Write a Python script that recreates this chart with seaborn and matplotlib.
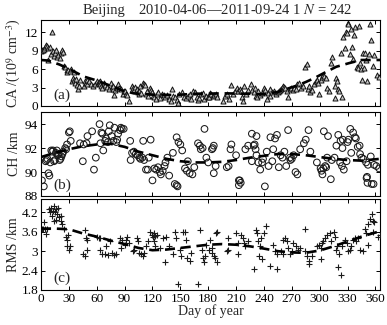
import numpy as np
import pandas as pd
import matplotlib
matplotlib.use("Agg")
import matplotlib.pyplot as plt
import seaborn as sns

# ---- CA (10^9 cm^-3) observations: day of year, value ----
ca_day = [0.5, 1.5, 2.5, 3.5, 4.5, 5.5, 6.5, 7.5, 8.0, 9.5, 11.0, 12.0, 13.0, 14.0,
          15.5, 16.5, 17.5, 18.5, 20.0, 21.0, 22.5, 23.5, 25.0, 26.0, 27.5, 28.5, 29.5,
          31, 32, 33, 34, 35, 36, 37, 38, 39, 40, 41, 42,
          46, 47, 48, 49, 50, 52, 54, 56, 58,
          60, 61, 62, 63, 64, 65, 66, 68, 69, 71, 73,
          75, 76, 77, 78, 79, 80, 82, 83, 84, 86, 88, 89,
          90, 92, 93, 95, 98, 99, 100, 101, 103, 104,
          105, 106, 107, 108, 110, 111, 112, 113, 114, 115, 117, 118,
          120, 121, 122, 124, 125, 126, 128, 130, 132, 134,
          136, 138, 140, 141, 142, 144, 146, 148, 149,
          152, 154, 156, 158, 160, 162, 164,
          166, 168, 169, 170, 172, 174, 176, 178,
          180, 181, 182, 183, 185, 186, 188, 190,
          196, 198, 200, 202, 205, 207, 209,
          211, 212, 214, 215, 216, 217, 219, 221, 223,
          226, 227, 229, 230, 231, 233, 234, 236, 238,
          240, 241, 243, 244, 246, 247, 249, 251, 253,
          255, 256, 257, 258, 259, 260, 261, 262, 263, 265, 266, 268, 269,
          271, 272, 274, 276, 278, 280, 282, 284, 286,
          287, 289, 290, 292, 294, 296, 297, 298, 299,
          301, 302, 304, 305, 307, 308, 310, 312, 313,
          316, 317, 318, 319, 320, 321, 323, 324, 325, 327, 328, 329, 330, 331,
          333, 334, 335, 336, 337, 338, 340, 341, 342, 343, 344,
          346, 347, 348, 349, 350, 351, 353, 354, 355, 357, 359, 362, 364]
ca_val = [9.0, 9.2, 9.1, 9.3, 9.6, 9.9, 9.8, 9.5, 7.5, 9.6, 8.5, 12.0, 8.9, 8.2,
          8.6, 9.1, 8.0, 8.3, 7.9, 8.6, 9.2, 8.8, 6.6, 6.4, 5.8, 5.6, 5.9,
          5.7, 6.0, 4.0, 4.6, 5.5, 4.2, 3.8, 4.4, 3.4, 2.8, 3.2, 4.3,
          3.2, 4.0, 3.8, 4.3, 3.5, 4.1, 3.6, 3.3, 3.5,
          4.1, 3.8, 3.9, 4.0, 3.5, 3.3, 2.9, 3.7, 3.4, 3.1, 2.8,
          3.8, 3.1, 2.8, 3.3, 1.8, 2.6, 3.0, 3.5, 2.9, 2.7, 2.0, 2.4,
          2.5, 2.0, 1.8, 0.8, 3.2, 2.9, 2.6, 3.1, 2.7, 2.2,
          1.9, 2.4, 3.3, 2.1, 3.7, 3.5, 3.4, 2.0, 2.4, 1.6, 2.9, 2.6,
          2.3, 1.7, 1.5, 1.1, 1.9, 2.2, 1.3, 2.0, 1.8, 1.4,
          1.8, 1.2, 0.8, 2.7, 1.6, 1.5, 1.0, 0.5, 2.0,
          2.3, 1.5, 1.3, 1.7, 2.0, 1.2, 2.4,
          2.2, 1.5, 1.0, 1.3, 1.9, 2.1, 1.1, 1.6,
          1.5, 1.4, 2.1, 2.0, 1.6, 1.8, 1.9, 1.5,
          0.8, 1.6, 2.0, 1.2, 3.4, 2.0, 2.5,
          3.0, 2.5, 2.8, 2.4, 1.4, 0.8, 3.2, 2.0, 2.6,
          3.5, 2.6, 2.2, 2.9, 1.7, 1.5, 2.5, 1.8, 2.1,
          3.0, 2.6, 1.2, 2.1, 2.8, 1.7, 2.3, 2.5, 2.0,
          2.2, 2.4, 2.6, 2.8, 3.0, 3.1, 3.2, 3.1, 2.9, 2.5, 1.5, 2.7, 2.9,
          2.6, 3.0, 2.8, 3.5, 3.8, 2.9, 3.3, 6.3, 6.8,
          2.8, 3.2, 2.2, 2.6, 3.5, 4.0, 4.2, 3.8, 2.0,
          4.3, 4.8, 5.1, 4.9, 4.6, 3.0, 2.5, 7.0, 8.0,
          1.3, 3.2, 4.5, 4.0, 2.8, 2.5, 8.7, 1.5, 11.2, 9.5, 12.0, 11.9, 13.5, 13.3,
          8.5, 12.6, 9.6, 7.7, 11.5, 12.9, 6.4, 6.2, 13.1, 7.0, 6.1,
          4.2, 8.6, 6.2, 8.7, 7.5, 4.0, 8.4, 13.3, 10.8, 6.5, 8.3, 5.0, 4.8]

# ---- CH (km) observations ----
ch_day = [1, 3, 5, 6, 7, 8, 9, 10, 11, 12, 13, 14, 15,
          16, 17, 18, 19, 20, 21, 22, 23, 24, 26, 27, 28, 30, 31, 32,
          42, 45, 46, 49, 50, 55, 57, 59,
          63, 64, 65, 66, 67, 69, 70, 72, 73, 74, 76, 78, 79, 81, 82, 83, 85, 86, 87, 89,
          96, 96.5, 98, 100, 102, 104, 106, 107, 109, 111, 110, 113, 115, 116, 118, 120, 122,
          124, 126, 128, 129, 131, 133, 134, 136, 138, 142, 144, 146, 147, 146, 148, 150, 152,
          155, 157, 158, 160, 163, 165, 169, 171, 172, 174, 176, 178,
          180, 184, 185, 186, 188, 186, 200, 202, 205, 204, 210, 213, 214, 215, 213,
          220, 223, 227, 229, 230, 231, 232, 232, 227, 234, 236, 238, 239, 241, 243,
          245, 247, 249, 250, 252, 254, 256, 258, 260, 262, 264, 266, 268, 268.5, 270,
          272, 274, 276, 279, 283, 285, 288, 290, 297, 301, 302, 304, 303, 306, 307,
          304.5, 309, 308, 312, 313, 316, 318, 320, 322, 324, 326, 322.5, 324.5, 325,
          329, 330, 331, 333, 336, 334, 338, 339, 341, 343, 343.5, 345, 347, 350, 352,
          350.5, 351, 351.5, 356, 358, 355, 358.5, 361, 364]
ch_val = [89.3, 88.8, 90.9, 91.0, 91.1, 89.9, 89.7, 90.8, 91.8, 91.7, 91.8, 90.9, 91.0,
          91.6, 91.8, 91.4, 91.5, 91.0, 91.1, 91.3, 91.5, 91.7, 92.0, 91.9, 92.3, 93.3, 93.4, 92.6,
          92.4, 90.9, 92.3, 92.4, 93.0, 93.4, 90.2, 91.2,
          94.0, 92.4, 93.3, 93.2, 91.8, 92.6, 92.8, 92.5, 93.4, 93.9, 93.0, 92.6, 93.7, 92.5,
          92.7, 93.2, 93.5, 93.7, 93.6, 93.6,
          92.6, 91.0, 91.6, 91.7, 91.5, 91.4, 91.2, 91.1, 91.2, 91.0, 92.6, 90.2, 90.2, 91.2,
          92.7, 89.3, 90.3,
          90.2, 90.4, 90.0, 89.8, 90.1, 90.5, 90.8, 91.2, 89.7, 91.6, 89.0, 88.9, 88.8, 92.9,
          92.5, 92.3, 91.8,
          90.3, 90.1, 90.9, 89.9, 89.8, 90.4, 92.4, 92.2, 91.9, 92.0, 93.6, 91.2,
          90.8, 91.9, 92.0, 92.2, 90.5, 89.9, 90.4, 90.5, 92.3, 91.9, 91.4, 89.3, 89.3, 89.1, 88.9,
          91.9, 92.2, 93.2, 92.2, 92.3, 91.9, 93.0, 91.4, 90.9, 90.8, 90.2, 90.8, 91.1, 88.8, 91.7,
          90.5, 92.9, 90.9, 91.9, 92.8, 93.1, 90.4, 91.4, 91.2, 91.7, 90.5, 93.5, 91.2, 91.0, 91.1,
          91.4, 90.0, 89.8, 91.9, 92.4, 92.7, 93.5, 91.7, 90.8, 90.3, 90.1, 90.3, 89.8, 90.5, 90.4,
          93.4, 93.0, 91.2, 89.4, 91.0, 91.2, 92.2, 93.1, 90.8, 90.5, 90.2, 92.6, 92.0, 92.7,
          90.9, 92.5, 92.7, 93.6, 93.3, 91.6, 92.9, 92.8, 92.1, 92.2, 91.5, 91.2, 91.1, 90.8, 90.6,
          89.5, 89.6, 89.1, 89.0, 89.0, 91.3, 90.6, 90.5, 90.3]

# ---- RMS (km) observations ----
rms_day = [1, 2, 3, 4, 5, 6, 9, 10, 11, 12, 13, 14, 15, 16, 17, 18, 13.5, 16.5, 19, 21, 22, 23,
           25, 27, 28, 29, 27.5, 31, 30, 47, 48, 50, 45, 47.5, 49, 60, 62, 63, 63.5, 66, 69, 72,
           70, 74, 76, 79, 81, 85, 87, 86, 90, 92, 93, 95, 99, 100, 103, 104, 106, 108, 110, 111,
           113, 115, 117, 119, 121, 122, 123, 125, 121.5, 122.5, 128, 131, 135, 133, 138, 142,
           144, 145, 147, 150, 151, 153, 155, 156, 157, 160, 162, 169, 171, 173, 174, 176, 178,
           181, 184, 177, 182, 184.5, 186, 188, 189, 189.5, 187, 200, 201, 201.5, 210, 212,
           212.5, 215, 217, 218, 220, 223, 229, 231, 232, 234, 236, 237, 240, 242, 235, 237.5,
           247, 250, 252, 254, 254.5, 258, 260, 261, 263, 265, 266, 268, 270, 271, 275, 277,
           279, 284, 284.5, 286, 288, 289, 292, 297, 299, 301, 303, 304, 301.5, 306, 308, 311,
           312, 315, 316, 318, 319, 321, 320, 323, 324, 327, 329, 331, 333, 334, 336, 338, 339,
           341, 343, 347, 349, 350, 352, 352.5, 354, 356, 357, 358, 357.5, 363, 364.5]
rms_val = [3.68, 3.70, 3.90, 3.68, 3.52, 3.70, 4.30, 4.20, 4.35, 4.10, 4.25, 4.40, 4.20, 4.30,
           4.15, 4.35, 3.95, 3.98, 4.05, 4.10, 3.95, 3.85, 3.68, 3.45, 3.35, 3.50, 3.15, 3.17,
           3.05, 3.65, 3.40, 3.35, 2.90, 2.85, 3.05, 3.45, 3.42, 3.40, 3.05, 2.92, 2.90, 2.88,
           3.15, 3.30, 2.95, 2.88, 2.90, 3.40, 3.35, 3.10, 3.20, 3.35, 3.45, 3.25, 3.00, 3.05,
           3.40, 3.30, 2.95, 2.90, 2.85, 2.95, 3.17, 3.30, 3.60, 3.50, 3.45, 3.55, 3.48, 3.50,
           3.30, 3.15, 3.10, 3.40, 3.45, 2.66, 3.15, 2.92, 3.60, 3.40, 1.99, 3.05, 2.85, 3.60,
           3.58, 3.35, 2.80, 2.70, 2.95, 1.97, 3.66, 3.05, 2.80, 2.66, 3.20, 3.05, 3.10, 2.85,
           3.35, 2.95, 2.85, 3.55, 3.58, 2.66, 2.80, 3.00, 3.05, 3.40, 3.55, 3.25, 2.90, 3.50,
           3.40, 3.25, 3.15, 3.30, 2.45, 3.65, 3.55, 3.30, 3.15, 3.40, 3.55, 3.78, 2.85, 2.75,
           2.55, 3.20, 3.00, 2.90, 2.45, 3.00, 2.90, 3.35, 3.40, 3.30, 3.10, 2.92, 3.00, 3.25,
           3.17, 3.05, 3.10, 3.68, 3.00, 2.85, 2.70, 2.60, 2.85, 3.15, 3.20, 3.10, 3.25, 3.30,
           2.75, 3.40, 3.50, 3.55, 3.30, 3.60, 3.45, 3.05, 3.15, 2.90, 2.50, 2.25, 3.15, 3.35,
           3.25, 3.00, 3.05, 3.15, 3.35, 3.40, 3.30, 3.40, 3.05, 3.00, 3.70, 3.55, 3.20, 3.85,
           4.00, 4.15, 3.95, 3.90, 3.60, 3.45, 3.50]

# ---- smoothed seasonal curves (dashed) ----
ca_fit_day = [0, 8, 20, 32, 46, 60, 73, 88, 100, 125, 145, 168, 200, 220, 240, 255, 265,
              275, 285, 295, 305, 318, 332, 345, 365]
ca_fit = [7.5, 7.4, 6.75, 5.9, 4.8, 4.15, 3.4, 2.5, 2.05, 1.8, 1.8, 2.0, 2.05, 2.0, 1.9,
          2.3, 2.8, 3.3, 3.9, 4.6, 5.4, 6.4, 7.0, 7.5, 7.5]
ch_fit_day = [0, 15, 30, 45, 60, 75, 90, 105, 120, 135, 150, 165, 180, 195, 210, 225, 240,
              255, 270, 285, 300, 315, 330, 345, 365]
ch_fit = [91.25, 91.6, 91.9, 92.15, 92.3, 92.35, 92.1, 91.7, 91.4, 91.1, 90.9, 90.8, 90.8,
          90.85, 91.0, 91.2, 91.35, 91.5, 91.5, 91.4, 91.25, 91.1, 91.0, 90.95, 91.1]
rms_fit_day = [0, 15, 30, 45, 60, 75, 90, 105, 120, 135, 150, 165, 180, 195, 210, 225, 240,
               255, 270, 285, 300, 315, 330, 345, 365]
rms_fit = [3.7, 3.7, 3.68, 3.55, 3.45, 3.33, 3.22, 3.1, 3.03, 3.05, 3.1, 3.15, 3.2, 3.22,
           3.2, 3.15, 3.08, 3.0, 2.96, 2.95, 3.02, 3.15, 3.3, 3.45, 3.62]

x_ticks = list(range(0, 361, 30))
title_station = "Beijing"
title_span = "2010-04-06\u20142011-09-24 1 $\\it{N}$ = 242"

sns.set_theme(style="ticks")
plt.rcParams.update({
    "font.family": ["Liberation Serif", "DejaVu Serif"],
    "mathtext.fontset": "stix",
    "axes.linewidth": 0.8,
    "axes.edgecolor": "black",
    "xtick.direction": "in",
    "ytick.direction": "in",
    "xtick.top": True,
    "ytick.right": True,
    "xtick.major.size": 3.0,
    "ytick.major.size": 3.0,
    "xtick.major.width": 0.7,
    "ytick.major.width": 0.7,
    "xtick.color": "black",
    "ytick.color": "black",
    "xtick.labelsize": 9.5,
    "ytick.labelsize": 9.5,
    "xtick.major.pad": 2,
    "ytick.major.pad": 2,
})

fig = plt.figure(figsize=(3.87, 3.25), dpi=100)
left, width = 0.106, 0.876
ax_a = fig.add_axes([left, 0.674, width, 0.264])
ax_b = fig.add_axes([left, 0.397, width, 0.258])
ax_c = fig.add_axes([left, 0.108, width, 0.280])

dash = (0, (3.8, 2.2))

df_a = pd.DataFrame({"day": ca_day, "val": ca_val})
sns.scatterplot(data=df_a, x="day", y="val", ax=ax_a, marker="^", s=13,
                facecolor="#c4c4c4", edgecolor="#111111", linewidth=0.7, zorder=3)
sns.lineplot(x=ca_fit_day, y=ca_fit, ax=ax_a, color="black", lw=1.9,
             linestyle=dash, zorder=4)

df_b = pd.DataFrame({"day": ch_day, "val": ch_val})
sns.scatterplot(data=df_b, x="day", y="val", ax=ax_b, marker="o", s=23,
                facecolor="none", edgecolor="#1a1a1a", linewidth=0.75, zorder=3)
sns.lineplot(x=ch_fit_day, y=ch_fit, ax=ax_b, color="black", lw=1.9,
             linestyle=dash, zorder=4)

df_c = pd.DataFrame({"day": rms_day, "val": rms_val})
sns.scatterplot(data=df_c, x="day", y="val", ax=ax_c, marker="+", s=22,
                color="#1a1a1a", linewidth=0.8, zorder=3)
sns.lineplot(x=rms_fit_day, y=rms_fit, ax=ax_c, color="black", lw=1.9,
             linestyle=dash, zorder=4)

ax_a.set_ylim(0, 14)
ax_a.set_yticks([0, 3, 6, 9, 12])
ax_b.set_ylim(88, 95)
ax_b.set_yticks([88, 90, 92, 94])
ax_c.set_ylim(1.8, 4.62)
ax_c.set_yticks([1.8, 2.4, 3.0, 3.6, 4.2])
ax_c.set_yticklabels(["1.8", "2.4", "3", "3.6", "4.2"])

ax_a.set_ylabel("CA /(10$^9$ cm$^{-3}$)", fontsize=10, labelpad=1)
ax_b.set_ylabel("CH /km", fontsize=10, labelpad=3)
ax_c.set_ylabel("RMS /km", fontsize=10, labelpad=1)

for ax, tag in zip([ax_a, ax_b, ax_c], ["(a)", "(b)", "(c)"]):
    ax.set_xlim(0, 365)
    ax.set_xticks(x_ticks)
    ax.set_xlabel("")
    ax.text(0.035, 0.05, tag, transform=ax.transAxes, fontsize=11,
            ha="left", va="bottom")
    ax.set_facecolor("white")
    for sp in ax.spines.values():
        sp.set_visible(True)

ax_a.tick_params(labelbottom=False)
ax_b.tick_params(labelbottom=False)
ax_c.set_xlabel("Day of year", fontsize=10, labelpad=0)

fig.text(0.268, 0.968, title_station, ha="center", va="center", fontsize=10.5)
fig.text(0.633, 0.968, title_span, ha="center", va="center", fontsize=10.5)

fig.savefig("out.png", dpi=100)
